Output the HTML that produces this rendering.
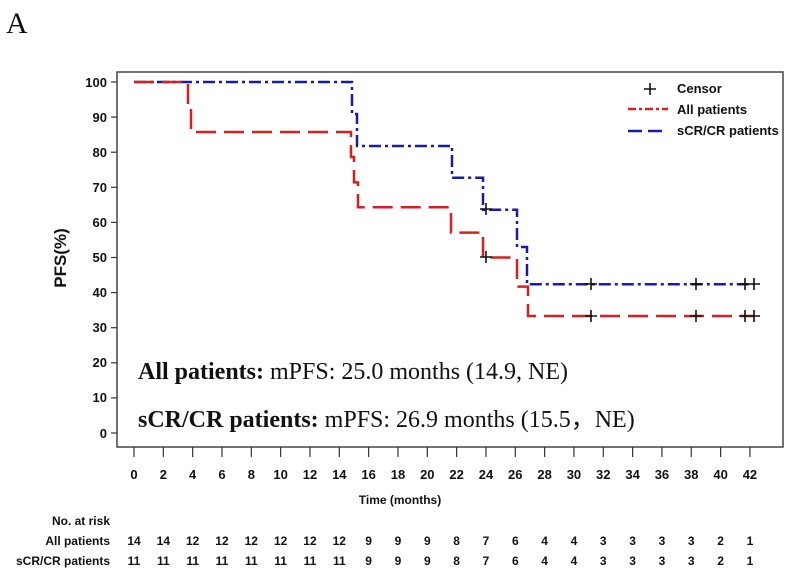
<!DOCTYPE html>
<html><head><meta charset="utf-8"><style>
html,body{margin:0;padding:0;background:#fff;}
svg{display:block;}
.t{font-family:"Liberation Sans",sans-serif;font-weight:bold;font-size:12px;fill:#111;}
.s{font-family:"Liberation Serif",serif;font-size:24px;fill:#111;}
</style></head><body>
<svg width="800" height="577" viewBox="0 0 800 577" xmlns="http://www.w3.org/2000/svg">
<text x="6" y="33" style="font-family:'Liberation Serif',serif;font-size:30px;fill:#111">A</text>
<rect x="117" y="72" width="666" height="375" fill="none" stroke="#444" stroke-width="1.5"/>
<g stroke="#333" stroke-width="1.2">
<line x1="111" y1="82" x2="117" y2="82"/><line x1="111" y1="117.1" x2="117" y2="117.1"/><line x1="111" y1="152.2" x2="117" y2="152.2"/><line x1="111" y1="187.3" x2="117" y2="187.3"/><line x1="111" y1="222.4" x2="117" y2="222.4"/><line x1="111" y1="257.5" x2="117" y2="257.5"/><line x1="111" y1="292.6" x2="117" y2="292.6"/><line x1="111" y1="327.7" x2="117" y2="327.7"/><line x1="111" y1="362.8" x2="117" y2="362.8"/><line x1="111" y1="397.9" x2="117" y2="397.9"/><line x1="111" y1="433" x2="117" y2="433"/>
</g>
<g text-anchor="end" style="font-family:'Liberation Sans',sans-serif;font-weight:bold;font-size:13px;fill:#111">
<text x="107" y="87">100</text><text x="107" y="122">90</text><text x="107" y="157">80</text><text x="107" y="192">70</text><text x="107" y="227">60</text><text x="107" y="262">50</text><text x="107" y="297">40</text><text x="107" y="332">30</text><text x="107" y="367">20</text><text x="107" y="402">10</text><text x="107" y="438">0</text>
</g>
<text transform="translate(66,258) rotate(-90)" text-anchor="middle" style="font-family:'Liberation Sans',sans-serif;font-weight:bold;font-size:17px;fill:#111">PFS(%)</text>
<g id="xt" stroke="#333" stroke-width="1.2"></g>
<g id="xl" text-anchor="middle" style="font-family:'Liberation Sans',sans-serif;font-weight:bold;font-size:13px;fill:#111"></g>
<text x="400" y="504" text-anchor="middle" class="t">Time (months)</text>
<text x="110" y="525" text-anchor="end" class="t">No. at risk</text>
<text x="110" y="545" text-anchor="end" class="t">All patients</text>
<text x="110" y="565" text-anchor="end" class="t">sCR/CR patients</text>
<g id="r1" text-anchor="middle" class="t"></g>
<polyline fill="none" stroke="#1a1aa8" stroke-width="2.5" stroke-dasharray="12,4,3,4" points="134,82 352,82 352,114 357,114 357,146 362,146 362,146 452,146 452,177.8 483,177.8 483,209.8 517,209.8 517,247 523,247 523,247 527,247 527,284.2 754,284.2"/>
<polyline fill="none" stroke="#d42020" stroke-width="2.5" stroke-dasharray="20,8" points="134,82 188,82 188,107 191,107 191,132 351,132 351,157 354,157 354,182.4 358,182.4 358,207.3 362,207.3 362,207.3 451,207.3 451,232.6 483,232.6 483,257.5 517,257.5 517,286.6 528,286.6 528,316 754,316"/>
<g stroke="#111" stroke-width="1.6">
<path d="M486,203v12M480,209h12 M591,278v12M585,284h12 M696,278v12M690,284h12 M745,278v12M739,284h12 M754,278v12M748,284h12"/>
<path d="M486,251v12M480,257h12 M591,310v12M585,316h12 M696,310v12M690,316h12 M745,310v12M739,316h12 M754,310v12M748,316h12"/>
<path d="M650,83v12M644,89h12"/>
</g>
<line x1="628" y1="109" x2="668" y2="109" stroke="#d42020" stroke-width="2.5" stroke-dasharray="8,3,3,3"/>
<line x1="628" y1="131" x2="668" y2="131" stroke="#1a1aa8" stroke-width="2.5" stroke-dasharray="14,6"/>
<text x="677" y="93" class="t" style="font-size:13px">Censor</text>
<text x="677" y="114" class="t" style="font-size:13px">All patients</text>
<text x="677" y="135" class="t" style="font-size:13px">sCR/CR patients</text>
<text x="138" y="379" class="s"><tspan font-weight="bold">All patients:</tspan> mPFS: 25.0 months (14.9, NE)</text>
<text x="138" y="427" class="s"><tspan font-weight="bold">sCR/CR patients:</tspan> mPFS: 26.9 months (15.5，NE)</text>
</svg>
<script>
var ns="http://www.w3.org/2000/svg";
var a=[14,14,12,12,12,12,12,12,9,9,9,8,7,6,4,4,3,3,3,3,2,1];
var b=[11,11,11,11,11,11,11,11,9,9,9,8,7,6,4,4,3,3,3,3,2,1];
var xt=document.getElementById('xt'),xl=document.getElementById('xl'),r1=document.getElementById('r1');
function el(p,tag,at,tx){var e=document.createElementNS(ns,tag);for(var k in at)e.setAttribute(k,at[k]);if(tx!=null)e.textContent=tx;p.appendChild(e);}
for(var i=0;i<22;i++){var x=134+i*29.33;
el(xt,'line',{x1:x,y1:447,x2:x,y2:457});
el(xl,'text',{x:x,y:479},String(i*2));
el(r1,'text',{x:x,y:545},String(a[i]));
el(r1,'text',{x:x,y:565},String(b[i]));}
</script>
</body></html>
